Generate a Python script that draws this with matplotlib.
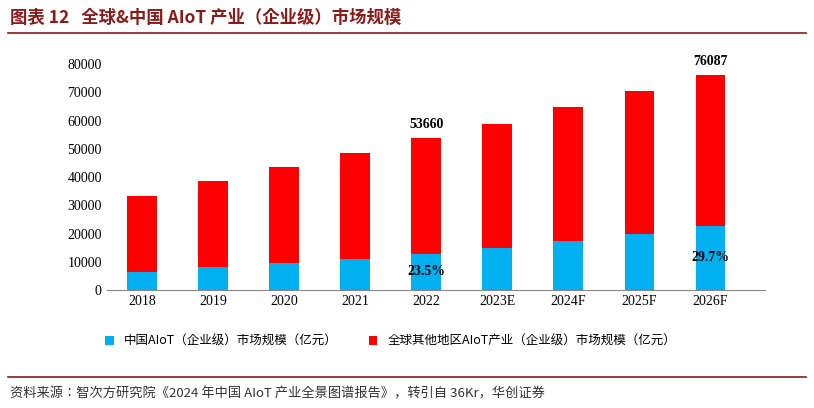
import matplotlib.pyplot as plt
from matplotlib.lines import Line2D

CJK = ['Noto Sans CJK JP', 'Noto Sans CJK SC', 'Noto Sans CJK TC', 'DejaVu Sans']
plt.rcParams['font.family'] = ['Liberation Serif'] + CJK

years = ['2018', '2019', '2020', '2021', '2022', '2023E', '2024F', '2025F', '2026F']
china = [6300, 8000, 9500, 11000, 12610, 14800, 17200, 19800, 22600]
other = [27000, 30500, 34100, 37400, 41050, 44100, 47500, 50600, 53487]
totals = [c + o for c, o in zip(china, other)]

fig = plt.figure(figsize=(8.14, 4.08), dpi=100)
ax = fig.add_axes([0.131, 0.289, 0.809, 0.554])

x = range(len(years))
ax.bar(x, china, width=0.42, color='#00B0F0', label='中国AIoT（企业级）市场规模（亿元）')
ax.bar(x, other, width=0.42, bottom=china, color='#FF0000',
       label='全球其他地区AIoT产业（企业级）市场规模（亿元）')

ax.set_ylim(0, 80000)
ax.set_yticks(range(0, 80001, 10000))
ax.set_xticks(list(x))
ax.set_xticklabels(years)
ax.set_xlim(-0.5, 8.77)
ax.tick_params(labelsize=10, length=0)
for s in ['top', 'right', 'left']:
    ax.spines[s].set_visible(False)
ax.spines['bottom'].set_color('#888888')

ax.text(4, totals[4] + 2500, '53660', ha='center', va='bottom', fontsize=10, fontweight='bold')
ax.text(8, totals[8] + 2500, '76087', ha='center', va='bottom', fontsize=10, fontweight='bold')
ax.text(4, 6500, '23.5%', ha='center', va='center', fontsize=10, fontweight='bold')
ax.text(8, 11500, '29.7%', ha='center', va='center', fontsize=10, fontweight='bold')

fig.legend(loc='lower left', bbox_to_anchor=(0.115, 0.12), ncol=2, frameon=False,
           handlelength=0.7, handleheight=0.7, columnspacing=2.5,
           prop={'family': CJK, 'size': 9})

fig.text(0.012, 0.955, '图表 12   全球&中国 AIoT 产业（企业级）市场规模', fontsize=12.5,
         fontweight='bold', color='#8B1A1A', va='center', family=CJK)
fig.add_artist(Line2D([0.01, 0.99], [0.918, 0.918], color='#8B1A1A', lw=1.2))
fig.add_artist(Line2D([0.01, 0.99], [0.075, 0.075], color='#8B1A1A', lw=1.2))
fig.text(0.012, 0.035, '资料来源：智次方研究院《2024 年中国 AIoT 产业全景图谱报告》，转引自 36Kr，华创证券',
         fontsize=9.5, style='italic', color='#333333', va='center', family=CJK)

fig.savefig('out.png', dpi=100)
